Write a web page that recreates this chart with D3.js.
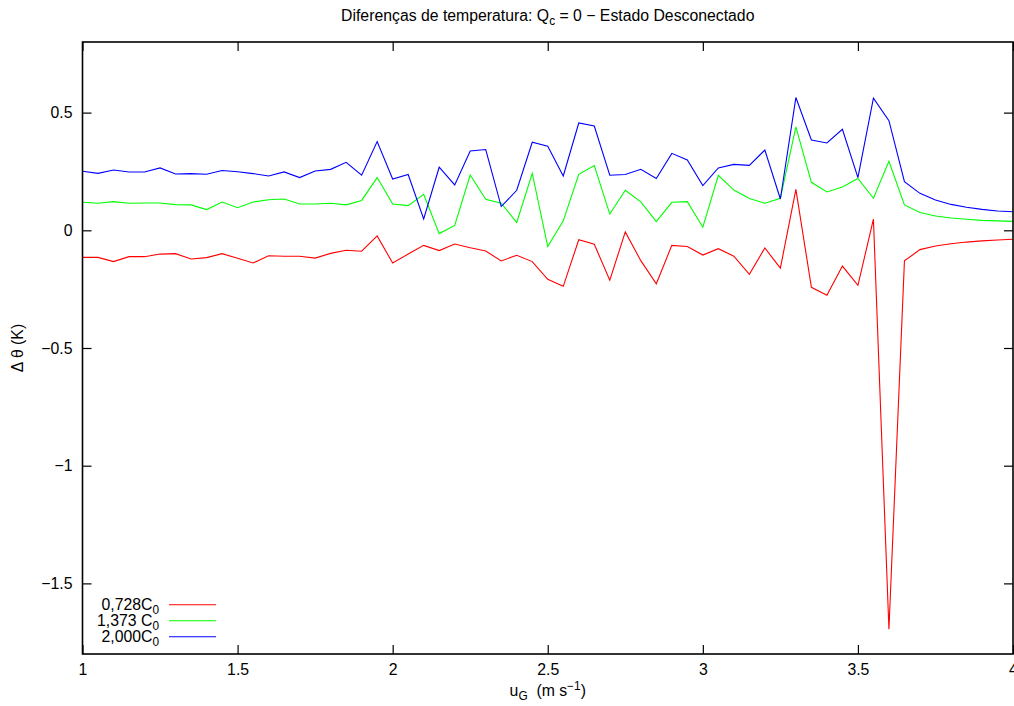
<!DOCTYPE html>
<html>
<head>
<meta charset="utf-8">
<script src="https://cdn.jsdelivr.net/npm/d3@7/dist/d3.min.js"></script>
<style>
  html, body { margin: 0; padding: 0; background: #fff; }
  svg { display: block; }
  text { font-family: "Liberation Sans", Arial, Helvetica, sans-serif; fill: #000; }
</style>
</head>
<body>
<svg id="chart" width="1014" height="706"></svg>
<script>
// Geostrophic wind speed u_G (m/s)
const ugValues = [
  1.00, 1.05, 1.10, 1.15, 1.20, 1.25, 1.30, 1.35, 1.40, 1.45, 1.50, 1.55, 1.60,
  1.65, 1.70, 1.75, 1.80, 1.85, 1.90, 1.95, 2.00, 2.05, 2.10, 2.15, 2.20,
  2.25, 2.30, 2.35, 2.40, 2.45, 2.50, 2.55, 2.60, 2.65, 2.70, 2.75, 2.80,
  2.85, 2.90, 2.95, 3.00, 3.05, 3.10, 3.15, 3.20, 3.25, 3.30, 3.35, 3.40,
  3.45, 3.50, 3.55, 3.60, 3.65, 3.70, 3.75, 3.80, 3.85, 3.90, 3.95, 4.00
];

// Temperature differences (K) for each coupling coefficient
const dTheta0728 = [
  -0.115, -0.115, -0.133, -0.112, -0.112, -0.101, -0.099, -0.122, -0.116, -0.099, -0.119, -0.139, -0.108,
  -0.110, -0.110, -0.118, -0.098, -0.085, -0.089, -0.024, -0.139, -0.101, -0.064, -0.086, -0.058,
  -0.074, -0.088, -0.130, -0.106, -0.133, -0.208, -0.238, -0.040, -0.059, -0.212, -0.007, -0.129,
  -0.227, -0.064, -0.069, -0.105, -0.078, -0.110, -0.187, -0.075, -0.161, 0.174, -0.242, -0.276,
  -0.152, -0.234, 0.047, -1.695, -0.130, -0.082, -0.067, -0.057, -0.050, -0.045, -0.041, -0.038
];
const dTheta1373 = [
  0.119, 0.115, 0.122, 0.115, 0.116, 0.116, 0.109, 0.108, 0.088, 0.120, 0.096, 0.120, 0.130,
  0.133, 0.112, 0.112, 0.115, 0.108, 0.127, 0.224, 0.112, 0.105, 0.153, -0.014, 0.021,
  0.235, 0.132, 0.115, 0.033, 0.242, -0.069, 0.040, 0.238, 0.275, 0.069, 0.170, 0.121,
  0.037, 0.119, 0.122, 0.013, 0.234, 0.171, 0.135, 0.115, 0.136, 0.439, 0.204, 0.163,
  0.184, 0.220, 0.136, 0.293, 0.108, 0.076, 0.061, 0.052, 0.047, 0.042, 0.040, 0.038
];
const dTheta2000 = [
  0.251, 0.242, 0.256, 0.248, 0.248, 0.265, 0.239, 0.241, 0.238, 0.254, 0.249, 0.241, 0.231,
  0.248, 0.224, 0.252, 0.259, 0.289, 0.234, 0.377, 0.218, 0.237, 0.048, 0.268, 0.193,
  0.337, 0.343, 0.101, 0.170, 0.374, 0.357, 0.231, 0.456, 0.443, 0.234, 0.237, 0.259,
  0.220, 0.327, 0.299, 0.190, 0.265, 0.280, 0.276, 0.341, 0.133, 0.564, 0.384, 0.371,
  0.429, 0.224, 0.561, 0.466, 0.207, 0.157, 0.129, 0.110, 0.098, 0.089, 0.082, 0.079
];

const seriesLabels = ["0,728", "1,373 ", "2,000"];
const seriesColors = ["#ff0000", "#00ff00", "#0000ff"];
const seriesValues = [dTheta0728, dTheta1373, dTheta2000];

const xTicks = [1, 1.5, 2, 2.5, 3, 3.5, 4];
const yTicks = [-1.5, -1, -0.5, 0, 0.5];

const svg = d3.select("#chart");
const plotLeft = 82.5, plotRight = 1013, plotTop = 42, plotBottom = 654;
const fontSize = 15.8;

const x = d3.scaleLinear().domain([1, 4]).range([plotLeft, plotRight]);
const y = d3.scaleLinear().domain([-1.8, 0.8]).range([plotBottom, plotTop]);

const fmt = v => d3.format("")(v);

// Axes with inward mirrored ticks on all four sides
const tickLen = 9;
function styleAxis(g) {
  g.select(".domain").remove();
  g.selectAll(".tick line").attr("stroke", "#000").attr("stroke-width", 1.2);
  g.selectAll(".tick text").style("font-size", fontSize + "px")
    .style("font-family", '"Liberation Sans", Arial, sans-serif');
}

svg.append("g").attr("transform", `translate(0,${plotBottom})`)
  .call(d3.axisBottom(x).tickValues(xTicks).tickFormat(fmt).tickSizeInner(-tickLen).tickSizeOuter(0).tickPadding(10))
  .call(styleAxis);
svg.append("g").attr("transform", `translate(0,${plotTop})`)
  .call(d3.axisTop(x).tickValues(xTicks).tickFormat("").tickSizeInner(-tickLen).tickSizeOuter(0))
  .call(styleAxis);
svg.append("g").attr("transform", `translate(${plotLeft},0)`)
  .call(d3.axisLeft(y).tickValues(yTicks).tickFormat(fmt).tickSizeInner(-tickLen).tickSizeOuter(0).tickPadding(10))
  .call(styleAxis);
svg.append("g").attr("transform", `translate(${plotRight},0)`)
  .call(d3.axisRight(y).tickValues(yTicks).tickFormat("").tickSizeInner(-tickLen).tickSizeOuter(0))
  .call(styleAxis);

// Data lines
const line = d3.line().x((d, i) => x(ugValues[i])).y(d => y(d));
seriesValues.forEach((vals, k) => {
  svg.append("path")
    .datum(vals)
    .attr("fill", "none")
    .attr("stroke", seriesColors[k])
    .attr("stroke-width", 1.1)
    .attr("stroke-linejoin", "miter")
    .attr("d", line);
});

// Plot frame
svg.append("rect")
  .attr("x", plotLeft).attr("y", plotTop)
  .attr("width", plotRight - plotLeft).attr("height", plotBottom - plotTop)
  .attr("fill", "none").attr("stroke", "#000").attr("stroke-width", 1.6);

// Title
const title = svg.append("text")
  .attr("x", (plotLeft + plotRight) / 2).attr("y", 21)
  .attr("text-anchor", "middle").style("font-size", fontSize + "px");
title.append("tspan").text("Diferenças de temperatura: Q");
title.append("tspan").attr("dy", 4).style("font-size", (fontSize * 0.75) + "px").text("c");
title.append("tspan").attr("dy", -4).text(" = 0 − Estado Desconectado");

// Axis titles
const xTitle = svg.append("text")
  .attr("x", (plotLeft + plotRight) / 2).attr("y", 696)
  .attr("text-anchor", "middle").style("font-size", fontSize + "px");
xTitle.append("tspan").text("u");
xTitle.append("tspan").attr("dy", 4).style("font-size", (fontSize * 0.75) + "px").text("G");
xTitle.append("tspan").attr("dy", -4).text("\u00a0\u00a0(m s");
xTitle.append("tspan").attr("dy", -6).style("font-size", (fontSize * 0.75) + "px").text("−1");
xTitle.append("tspan").attr("dy", 6).text(")");

svg.append("text")
  .attr("transform", "translate(23,348) rotate(-90)")
  .attr("text-anchor", "middle").style("font-size", fontSize + "px")
  .text("Δ θ (K)");

// Legend
const legendY = [604.7, 620.8, 636.8];
seriesLabels.forEach((lab, k) => {
  const t = svg.append("text")
    .attr("x", 159).attr("y", legendY[k] + 5)
    .attr("text-anchor", "end").style("font-size", fontSize + "px");
  t.append("tspan").text(lab + "C");
  t.append("tspan").attr("dy", 4).style("font-size", (fontSize * 0.75) + "px").text("0");
  svg.append("line")
    .attr("x1", 169).attr("x2", 216)
    .attr("y1", legendY[k]).attr("y2", legendY[k])
    .attr("stroke", seriesColors[k]).attr("stroke-width", 1.1);
});
</script>
</body>
</html>
